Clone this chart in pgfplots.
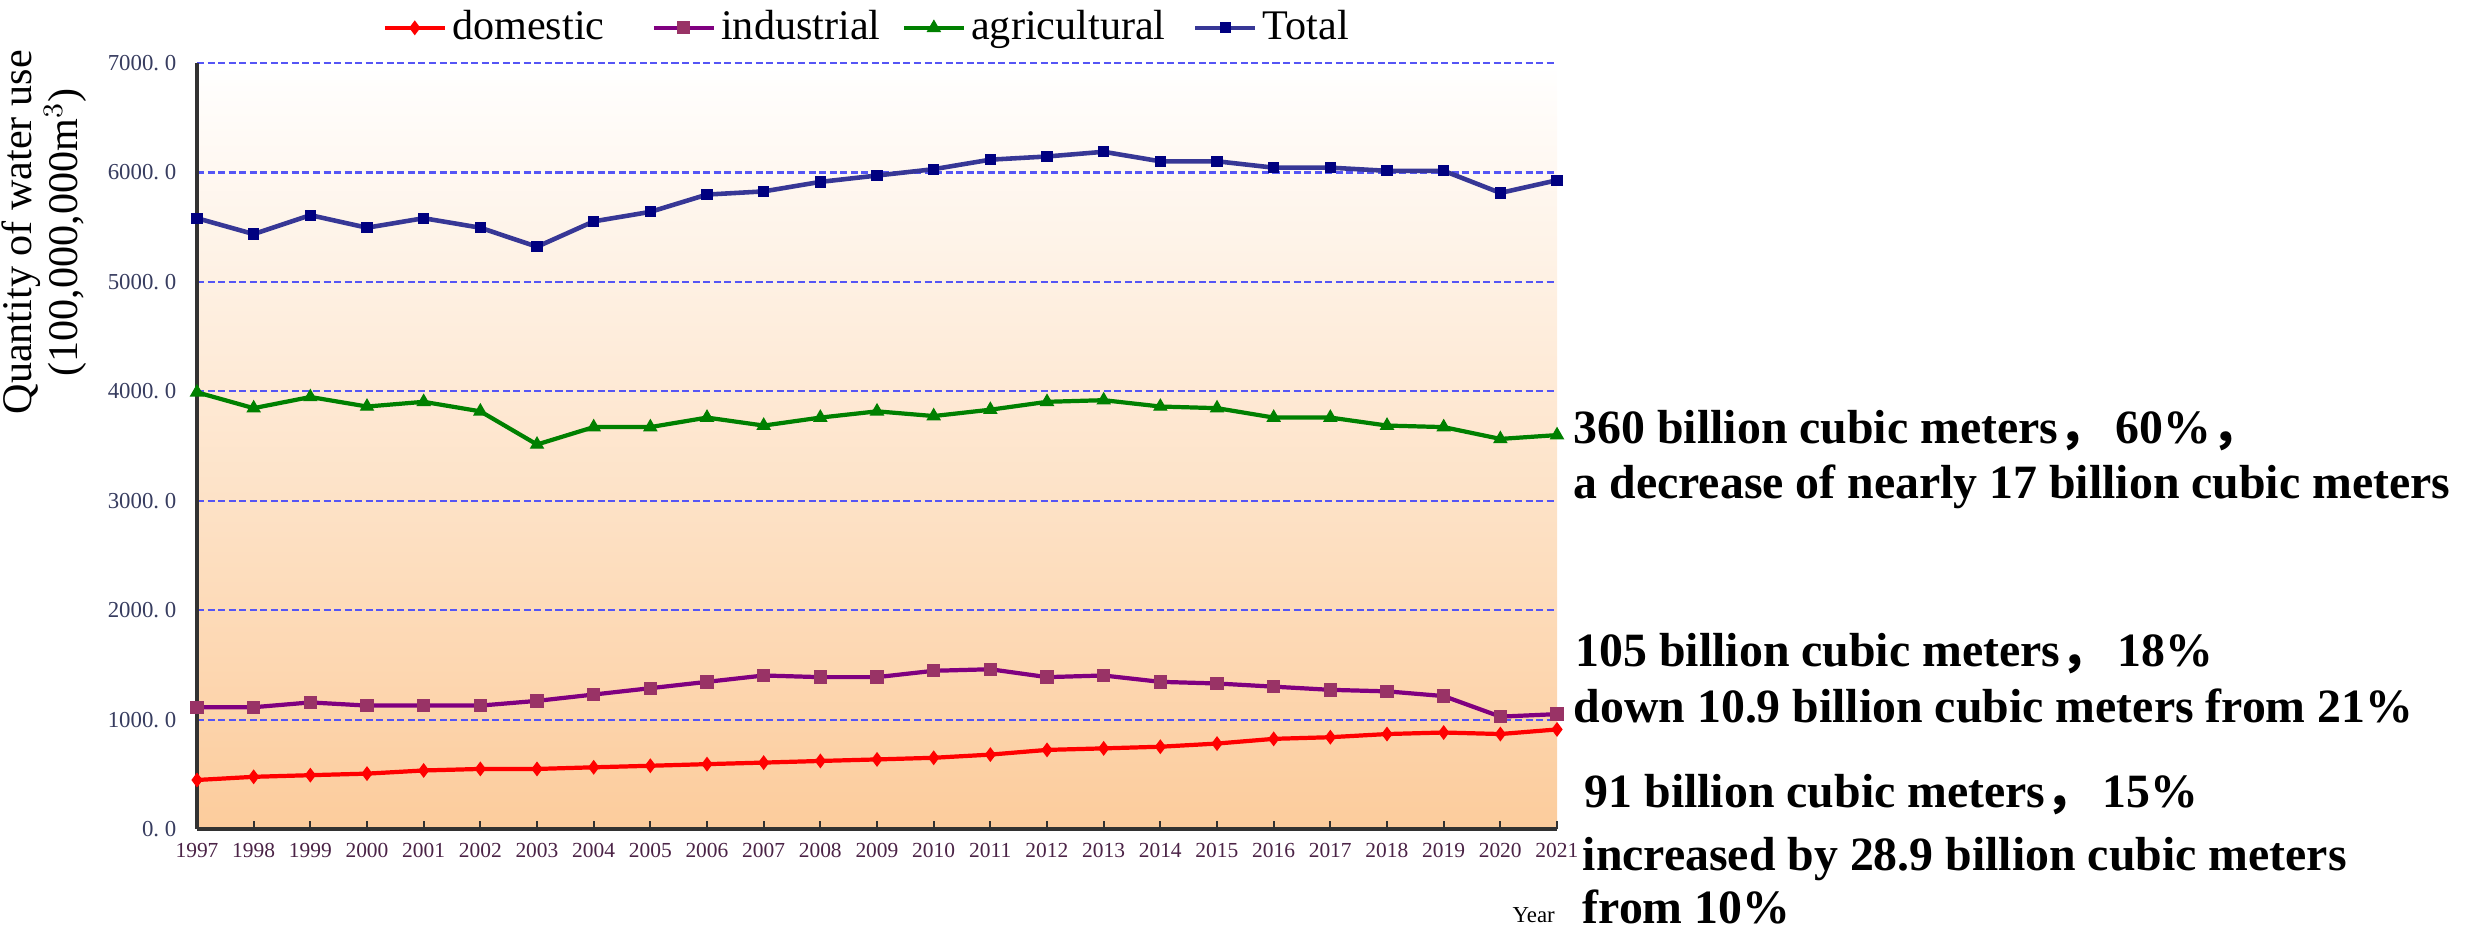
\documentclass[border=0pt]{standalone}
\usepackage{fontspec}
\setmainfont{Liberation Serif}
\newfontfamily\cjk{Noto Sans CJK SC}
\usepackage{pgfplots}
\usepackage{pgfplotstable}
\pgfplotsset{compat=1.18}

\definecolor{peach}{RGB}{252,204,156}
\definecolor{gridblue}{RGB}{85,85,245}
\definecolor{axisgray}{RGB}{50,50,50}
\definecolor{ytickcol}{RGB}{55,60,95}
\definecolor{xtickcol}{RGB}{75,35,70}
\definecolor{domred}{RGB}{255,0,0}
\definecolor{indline}{RGB}{128,0,128}
\definecolor{indmark}{RGB}{153,51,102}
\definecolor{agrgreen}{RGB}{0,128,0}
\definecolor{totline}{RGB}{55,55,150}
\definecolor{totmark}{RGB}{0,0,128}

% Water use by sector, 100 million m^3
\pgfplotstableread{
year domestic industrial agricultural total
1997 448 1113 3991 5582
1998 477 1113 3846 5437
1999 492 1157 3948 5610
2000 506 1128 3861 5495
2001 535 1128 3904 5582
2002 549 1128 3817 5495
2003 549 1171 3514 5321
2004 564 1229 3673 5553
2005 578 1287 3673 5640
2006 593 1345 3760 5798
2007 607 1403 3687 5827
2008 622 1388 3760 5914
2009 636 1388 3817 5972
2010 651 1446 3774 6030
2011 680 1460 3832 6117
2012 723 1388 3904 6146
2013 737 1403 3919 6189
2014 752 1345 3861 6102
2015 781 1330 3846 6102
2016 824 1301 3760 6044
2017 839 1272 3760 6044
2018 868 1258 3687 6015
2019 882 1215 3673 6015
2020 868 1027 3565 5813
2021 910 1050 3600 5929
}\water

\newcommand\annfont{\fontsize{13.6pt}{16pt}\selectfont\bfseries}
\newcommand\fwc{{\cjk ，}\hspace{0.2em}}

\begin{document}
\begin{tikzpicture}
\useasboundingbox (0,0) rectangle (24.78,9.31);
\begin{axis}[
  at={(1.97cm,1.02cm)}, anchor=south west,
  scale only axis, width=13.60cm, height=7.66cm,
  xmin=1997, xmax=2021, ymin=0, ymax=7000,
  clip=false,
  axis lines*=left,
  axis line style={draw=axisgray, line width=1pt},
  axis background/.style={shade, top color=white, bottom color=peach},
  ymajorgrids,
  major grid style={gridblue, line width=0.6pt, dash pattern=on 2pt off 1pt},
  xtick={1997,...,2021},
  xticklabels={1997,1998,1999,2000,2001,2002,2003,2004,2005,2006,2007,2008,2009,2010,2011,2012,2013,2014,2015,2016,2017,2018,2019,2020,2021},
  ytick={0,1000,...,7000},
  yticklabels={0.~0,1000.~0,2000.~0,3000.~0,4000.~0,5000.~0,6000.~0,7000.~0},
  tick align=inside,
  major tick length=0.08cm,
  xtick style={draw=axisgray, line width=0.6pt},
  ytick style={draw=none},
  xticklabel style={font=\fontsize{6.1pt}{7pt}\selectfont, text=xtickcol, inner sep=0pt, yshift=-0.14cm},
  yticklabel style={font=\fontsize{6.5pt}{7pt}\selectfont, text=ytickcol, inner sep=0pt, xshift=-0.2cm},
  ylabel={Quantity of water use\\(100,000,000m$^{3}$)},
  ylabel style={at={(axis description cs:-0.1125,0.779)}, anchor=center, align=center,
    font=\fontsize{12pt}{10.5pt}\selectfont},
  legend columns=4,
  legend style={at={(0.136,1)}, anchor=south west, yshift=0.12cm, draw=none, fill=none,
    inner sep=0pt, font=\fontsize{12pt}{14pt}\selectfont,
    nodes={inner sep=1.5pt},
    /tikz/column 2/.style={column sep=0.42cm},
    /tikz/column 4/.style={column sep=0.16cm},
    /tikz/column 6/.style={column sep=0.22cm}},
]
\addplot[domred, line width=1.2pt, mark=diamond*, mark size=1.8pt,
  mark options={solid, fill=domred, draw=domred, line width=0.4pt}]
  table[x=year, y=domestic]{\water};
\addlegendentry{domestic}
\addplot[indline, line width=1.2pt, mark=square*, mark size=1.7pt,
  mark options={solid, fill=indmark, draw=indmark, line width=0.4pt}]
  table[x=year, y=industrial]{\water};
\addlegendentry{industrial}
\addplot[agrgreen, line width=1.2pt, mark=triangle*, mark size=2pt,
  mark options={solid, fill=agrgreen, draw=agrgreen, line width=0.4pt}]
  table[x=year, y=agricultural]{\water};
\addlegendentry{agricultural}
\addplot[totline, line width=1.3pt, mark=square*, mark size=1.4pt,
  mark options={solid, fill=totmark, draw=totmark, line width=0.4pt}]
  table[x=year, y=total]{\water};
\addlegendentry{Total}
\end{axis}

% sector notes beside the 2021 values
\node[anchor=base west, font=\annfont, inner sep=0pt] at (15.73,4.88) {360 billion cubic meters\fwc 60\%{\cjk ，}};
\node[anchor=base west, font=\annfont, inner sep=0pt] at (15.73,4.33) {a decrease of nearly 17 billion cubic meters};
\node[anchor=base west, font=\annfont, inner sep=0pt] at (15.75,2.65) {105 billion cubic meters\fwc 18\%};
\node[anchor=base west, font=\annfont, inner sep=0pt] at (15.73,2.085) {down 10.9 billion cubic meters from 21\%};
\node[anchor=base west, font=\annfont, inner sep=0pt] at (15.84,1.24) {91 billion cubic meters\fwc 15\%};
\node[anchor=base west, font=\annfont, inner sep=0pt] at (15.82,0.61) {increased by 28.9 billion cubic meters};
\node[anchor=base west, font=\annfont, inner sep=0pt] at (15.82,0.08) {from 10\%};
\node[anchor=base west, font=\fontsize{6.5pt}{7pt}\selectfont, inner sep=0pt] at (15.12,0.09) {Year};
\end{tikzpicture}
\end{document}
